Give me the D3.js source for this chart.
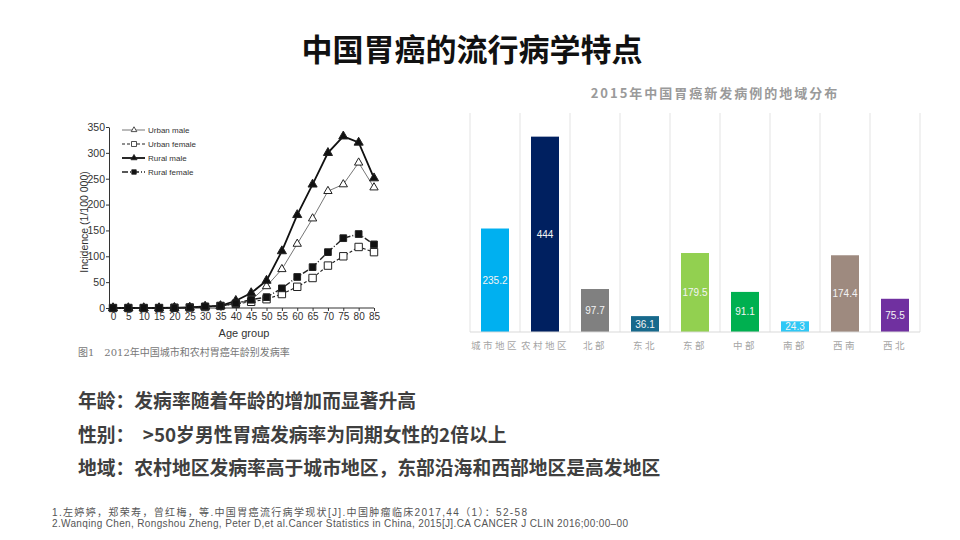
<!DOCTYPE html>
<html>
<head>
<meta charset="utf-8">
<script src="https://cdn.jsdelivr.net/npm/d3@7"></script>
<style>
  body { margin: 0; background: #fff; }
  svg { display: block; font-family: "Noto Sans CJK SC", "Noto Sans", sans-serif; }
</style>
</head>
<body>
<script>
// left chart: incidence by age group (1/100 000)
var ages = [0, 5, 10, 15, 20, 25, 30, 35, 40, 45, 50, 55, 60, 65, 70, 75, 80, 85];
var urbanMale   = [0, 0, 0, 0, 0.5, 1, 2, 4, 10, 15, 42, 75, 124, 173, 226, 239, 281, 233];
var urbanFemale = [0, 0, 0, 0, 0.5, 1, 2, 4, 8, 12, 17, 27, 41, 58, 82, 100, 118, 108];
var ruralMale   = [0, 0, 0, 0, 0.5, 1, 3, 4, 14, 29, 53, 110, 180, 239, 300, 332, 320, 251];
var ruralFemale = [0, 0, 0, 0, 0.5, 1, 3, 4, 9, 16, 21, 38, 60, 79, 108, 135, 143, 123];
var yTicksLeft  = [0, 50, 100, 150, 200, 250, 300, 350];

// right chart: 2015 new cases by region
var regions = ["城市地区", "农村地区", "北部", "东北", "东部", "中部", "南部", "西南", "西北"];
var newCases = [235.2, 444, 97.7, 36.1, 179.5, 91.1, 24.3, 174.4, 75.5];
var regionColors = ["#00b0f0", "#002060", "#808080", "#17698c", "#92d050", "#00b050", "#2fc8f6", "#9e8a7f", "#7030a0"];

var points = [
    "年龄：发病率随着年龄的增加而显著升高",
    "性别：  >50岁男性胃癌发病率为同期女性的2倍以上",
    "地域：农村地区发病率高于城市地区，东部沿海和西部地区是高发地区"
];
var refs = [
    "1.左婷婷，郑荣寿，曾红梅，等.中国胃癌流行病学现状[J].中国肿瘤临床2017,44（1）：52-58",
    "2.Wanqing Chen, Rongshou Zheng, Peter D,et al.Cancer Statistics in China, 2015[J].CA CANCER J CLIN 2016;00:00–00"
];
var refWidths = [475, 576];

var svg = d3.select("body").append("svg")
    .attr("width", 960)
    .attr("height", 540);

// page title
svg.append("text")
    .attr("x", 472).attr("y", 61)
    .attr("text-anchor", "middle")
    .attr("font-size", 31).attr("font-weight", "bold")
    .attr("fill", "#111")
    .text("中国胃癌的流行病学特点");

// ---------- left line chart ----------
var x = d3.scaleLinear().domain([0, 85]).range([113, 374]);
var y = d3.scaleLinear().domain([0, 350]).range([308, 127]);

var left = svg.append("g").attr("font-family", "\"Liberation Sans\", Arial, sans-serif");

left.append("g")
    .attr("transform", "translate(109,0)")
    .call(d3.axisLeft(y).tickValues(yTicksLeft).tickSize(3).tickPadding(1).tickSizeOuter(0))
    .call(function(g) {
        g.select(".domain").attr("stroke", "#333");
        g.selectAll("line").attr("stroke", "#333");
        g.selectAll("text").attr("font-size", 10.5).attr("fill", "#333").attr("font-family", "inherit");
    });

left.append("g")
    .attr("transform", "translate(0,308)")
    .call(d3.axisBottom(x).tickValues(ages).tickSize(3).tickSizeOuter(0))
    .call(function(g) {
        g.select(".domain").attr("stroke", "#333").attr("d", "M109,0H374");
        g.selectAll("line").attr("stroke", "#333");
        g.selectAll("text").attr("font-size", 10).attr("fill", "#333").attr("font-family", "inherit").attr("dy", "0.6em");
    });

left.append("text")
    .attr("transform", "translate(88,222) rotate(-90)")
    .attr("text-anchor", "middle")
    .attr("font-size", 10.5).attr("fill", "#333")
    .text("Incidence (1/100 000)");

left.append("text")
    .attr("x", 244).attr("y", 337)
    .attr("text-anchor", "middle")
    .attr("font-size", 11).attr("fill", "#333")
    .text("Age group");

svg.append("text")
    .attr("x", 78).attr("y", 356)
    .attr("font-size", 10).attr("fill", "#777")
    .attr("font-family", "\"DejaVu Serif\", \"Noto Sans CJK SC\", serif")
    .text("图1　2012年中国城市和农村胃癌年龄别发病率");

var series = [
    { name: "Urban male",   values: urbanMale,   stroke: "#666", width: 0.9, dash: null,  shape: d3.symbolTriangle, size: 30, fill: "#fff" },
    { name: "Urban female", values: urbanFemale, stroke: "#222", width: 1.1, dash: "3,2", shape: d3.symbolSquare,   size: 55, fill: "#fff" },
    { name: "Rural male",   values: ruralMale,   stroke: "#111", width: 1.8, dash: null,  shape: d3.symbolTriangle, size: 36, fill: "#111" },
    { name: "Rural female", values: ruralFemale, stroke: "#222", width: 1.4, dash: "6,2,1,2", shape: d3.symbolSquare, size: 45, fill: "#111" }
];

var line = d3.line()
    .x(function(d, i) { return x(ages[i]); })
    .y(function(d) { return y(d); });

series.forEach(function(s) {
    left.append("path")
        .attr("d", line(s.values))
        .attr("fill", "none")
        .attr("stroke", s.stroke)
        .attr("stroke-width", s.width)
        .attr("stroke-dasharray", s.dash);
    left.selectAll(null)
        .data(s.values)
        .enter()
        .append("path")
        .attr("transform", function(d, i) { return "translate(" + x(ages[i]) + "," + y(d) + ")"; })
        .attr("d", d3.symbol().type(s.shape).size(s.size))
        .attr("fill", s.fill)
        .attr("stroke", "#222")
        .attr("stroke-width", 1);
});

// legend
var legend = left.selectAll(".leg")
    .data(series)
    .enter()
    .append("g")
    .attr("transform", function(d, i) { return "translate(122," + (130 + i * 14) + ")"; });
legend.append("line")
    .attr("x1", 0).attr("x2", 23)
    .attr("stroke", function(d) { return d.stroke; })
    .attr("stroke-width", function(d) { return d.width; })
    .attr("stroke-dasharray", function(d) { return d.dash; });
legend.append("path")
    .attr("transform", "translate(12,0)")
    .attr("d", function(d) { return d3.symbol().type(d.shape).size(d.size * 0.45)(); })
    .attr("fill", function(d) { return d.fill; })
    .attr("stroke", "#222").attr("stroke-width", 0.8);
legend.append("text")
    .attr("x", 26).attr("dy", "0.35em")
    .attr("font-size", 8).attr("fill", "#333")
    .text(function(d) { return d.name; });

// ---------- right bar chart ----------
var bx = d3.scaleBand().domain(regions).range([470, 920]).paddingInner(0.44).paddingOuter(0.22);
var by = d3.scaleLinear().domain([0, 500]).range([332, 112]);

var right = svg.append("g");

right.append("text")
    .attr("x", 715).attr("y", 98)
    .attr("text-anchor", "middle")
    .attr("font-size", 13).attr("font-weight", "bold")
    .attr("letter-spacing", 2)
    .attr("fill", "#9a9a9a")
    .text("2015年中国胃癌新发病例的地域分布");

var edges = d3.range(regions.length + 1).map(function(i) { return 470 + i * bx.step(); });
right.selectAll(".grid")
    .data(edges)
    .enter()
    .append("line")
    .attr("x1", function(d) { return d; }).attr("x2", function(d) { return d; })
    .attr("y1", 113).attr("y2", 332)
    .attr("stroke", "#e3e3e3").attr("stroke-width", 1);

right.selectAll(".bar")
    .data(newCases)
    .enter()
    .append("rect")
    .attr("x", function(d, i) { return bx(regions[i]); })
    .attr("width", bx.bandwidth())
    .attr("y", function(d) { return by(d); })
    .attr("height", function(d) { return by(0) - by(d); })
    .attr("fill", function(d, i) { return regionColors[i]; });

right.append("line")
    .attr("x1", 470).attr("x2", 920)
    .attr("y1", 332).attr("y2", 332)
    .attr("stroke", "#d9d9d9");

right.selectAll(".val")
    .data(newCases)
    .enter()
    .append("text")
    .attr("x", function(d, i) { return bx(regions[i]) + bx.bandwidth() / 2; })
    .attr("y", function(d) { return (by(d) + by(0)) / 2; })
    .attr("dy", "0.35em")
    .attr("text-anchor", "middle")
    .attr("font-family", "\"Liberation Sans\", Arial, sans-serif")
    .attr("font-size", 10)
    .attr("fill", "#f4f4f4")
    .text(function(d) { return d; });

right.selectAll(".cat")
    .data(regions)
    .enter()
    .append("text")
    .attr("x", function(d) { return bx(d) + bx.bandwidth() / 2; })
    .attr("y", 349)
    .attr("text-anchor", "middle")
    .attr("font-size", 9.5)
    .attr("letter-spacing", 2.5)
    .attr("fill", "#a5a5a5")
    .text(function(d) { return d; });

// ---------- key points ----------
svg.selectAll(".pt")
    .data(points)
    .enter()
    .append("text")
    .attr("x", 78)
    .attr("y", function(d, i) { return 408 + i * 33.5; })
    .attr("font-size", 18.8)
    .attr("font-weight", "bold")
    .attr("fill", "#3f3f3f")
    .style("white-space", "pre")
    .text(function(d) { return d; });

svg.selectAll(".ref")
    .data(refs)
    .enter()
    .append("text")
    .attr("x", 52)
    .attr("y", function(d, i) { return 516 + i * 10.5; })
    .attr("font-family", "\"Liberation Sans\", \"Noto Sans CJK SC\", sans-serif")
    .attr("font-size", 10)
    .attr("textLength", function(d, i) { return refWidths[i]; })
    .attr("lengthAdjust", "spacing")
    .attr("fill", "#555")
    .text(function(d) { return d; });
</script>
</body>
</html>
